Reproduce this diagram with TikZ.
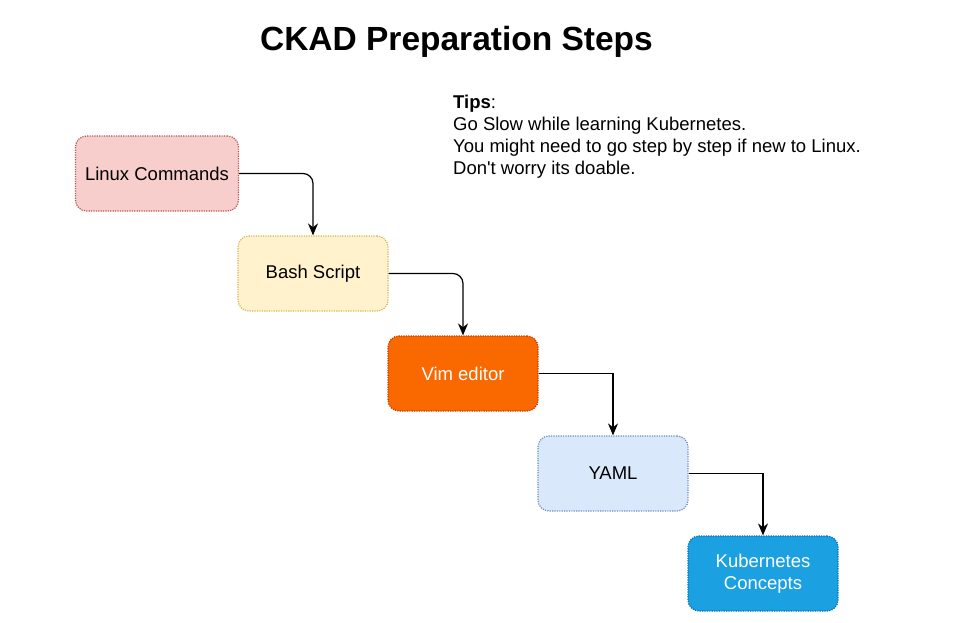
\documentclass[tikz,border=0pt]{standalone}
\usepackage{fontspec}
\setmainfont{Liberation Sans}
\usepackage{tikz}
\usetikzlibrary{arrows.meta}

\definecolor{linfill}{HTML}{F8CECC}
\definecolor{linline}{HTML}{B85450}
\definecolor{bashfill}{HTML}{FFF2CC}
\definecolor{bashline}{HTML}{D6B656}
\definecolor{vimfill}{HTML}{FA6800}
\definecolor{vimline}{HTML}{C73500}
\definecolor{yamlfill}{HTML}{DAE8FC}
\definecolor{yamlline}{HTML}{6C8EBF}
\definecolor{kubefill}{HTML}{1BA1E2}
\definecolor{kubeline}{HTML}{006EAF}

\tikzset{
  stepbox/.style={draw, line width=1.2pt, dash pattern=on 1.2pt off 1.2pt,
    rounded corners=11pt, minimum width=150pt, minimum height=75pt,
    align=center, inner sep=2pt, font=\fontsize{18.5}{22}\selectfont},
  flow/.style={-{Stealth[length=12pt,width=10pt]}, line width=1.2pt}
}

\begin{document}
\begin{tikzpicture}[x=1pt,y=-1pt]
        \useasboundingbox (0,0) rectangle (974,623);
        \node[font=\fontsize{33.5}{40}\selectfont\bfseries] (title) at (456.5,42){CKAD Preparation Steps};
        \node[anchor=north west, align=left, inner sep=0pt, font=\fontsize{18.5}{22}\selectfont] (tips) at (453,95)
            {\textbf{Tips}:\\Go Slow while learning Kubernetes.\\You might need to go step by step if new to Linux.\\Don\textquotesingle t worry its doable.};
        \node[stepbox, fill=linfill, draw=linline, minimum width=163pt] (linux) at (157,173.5){Linux Commands};
        \node[stepbox, fill=bashfill, draw=bashline] (bash) at (313,273.5){Bash Script};
        \node[stepbox, fill=vimfill, draw=vimline, text=white] (vim) at (463,373.5){Vim editor};
        \node[stepbox, fill=yamlfill, draw=yamlline] (yaml) at (613,473.5){YAML};
        \node[stepbox, fill=kubefill, draw=kubeline, text=white] (kube) at (763,573.5){Kubernetes\\Concepts};
        \draw[flow, rounded corners=10pt](linux.east) -| (bash.north);
        \draw[flow, rounded corners=10pt](bash.east) -| (vim.north);
        \draw[flow](vim.east) -| (yaml.north);
        \draw[flow](yaml.east) -| (kube.north);
    \end{tikzpicture}
\end{document}
